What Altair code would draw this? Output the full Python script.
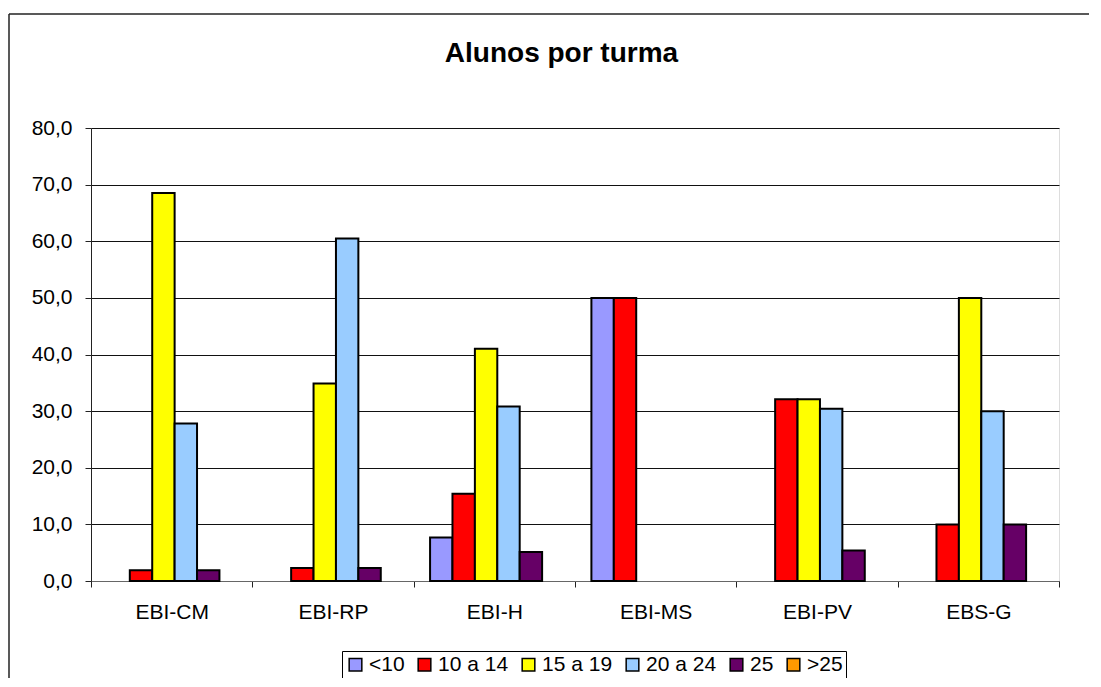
import altair as alt
import pandas as pd

categories = ["EBI-CM", "EBI-RP", "EBI-H", "EBI-MS", "EBI-PV", "EBS-G"]
series = ["<10", "10 a 14", "15 a 19", "20 a 24", "25", ">25"]
colors = ["#9999FF", "#FF0000", "#FFFF00", "#99CCFF", "#660066", "#FF9900"]

v_lt10 = [None, None, 7.7, 50.0, None, None]
v_10_14 = [1.9, 2.3, 15.4, 50.0, 32.1, 10.0]
v_15_19 = [68.5, 34.9, 41.0, None, 32.1, 50.0]
v_20_24 = [27.8, 60.5, 30.8, None, 30.4, 30.0]
v_25 = [1.9, 2.3, 5.1, None, 5.4, 10.0]
v_gt25 = [None, None, None, None, None, None]

all_vals = [v_lt10, v_10_14, v_15_19, v_20_24, v_25, v_gt25]
rows = []
for s, vals in zip(series, all_vals):
    for c, v in zip(categories, vals):
        if v is not None:
            rows.append({"turma": c, "serie": s, "valor": v})
df = pd.DataFrame(rows)

FONT = "Liberation Sans"
W, H = 968, 453

bars = alt.Chart(df).mark_bar(stroke="black", strokeWidth=2, strokeJoin="miter").encode(
    x=alt.X("turma:N", sort=categories, title=None,
            scale=alt.Scale(paddingInner=0, paddingOuter=0),
            axis=alt.Axis(labelAngle=0, tickBand="extent", labelFontSize=21, labelFont=FONT,
                          labelColor="black", labelPadding=14, tickSize=6, tickColor="#222",
                          domainColor="#666", grid=False)),
    xOffset=alt.XOffset("serie:N", sort=series,
                        scale=alt.Scale(domain=series, paddingInner=0, paddingOuter=0.6, align=0.61)),
    y=alt.Y("valor:Q", title=None,
            scale=alt.Scale(domain=[0, 80], nice=False),
            axis=alt.Axis(values=[0, 10, 20, 30, 40, 50, 60, 70, 80],
                          labelExpr="replace(format(datum.value, '.1f'), '.', ',')",
                          labelFontSize=21, labelFont=FONT, labelColor="black",
                          labelPadding=13, tickSize=6, tickColor="#222", domainColor="#222",
                          grid=True, gridColor="#111", gridWidth=1)),
    color=alt.Color("serie:N", sort=series,
                    scale=alt.Scale(domain=series, range=colors),
                    legend=alt.Legend(title=None, orient="none", legendX=251, legendY=523,
                                      direction="horizontal", columns=6,
                                      symbolType="square", symbolSize=160,
                                      symbolStrokeColor="black", symbolStrokeWidth=1.5,
                                      symbolOpacity=1,
                                      labelFontSize=21, labelFont=FONT, labelColor="black",
                                      labelOffset=3, columnPadding=9,
                                      strokeColor="black", padding=3)),
)

title = alt.Chart(pd.DataFrame({"t": ["Alunos por turma"]})).mark_text(
    font=FONT, fontSize=28, fontWeight="bold", color="black",
    align="center", baseline="alphabetic"
).encode(text="t:N", x=alt.value(470.5), y=alt.value(-66))

frame = pd.DataFrame({"a": [1]})
border_top = alt.Chart(frame).mark_rule(stroke="#222", strokeWidth=1.5).encode(
    x=alt.value(-82), x2=alt.value(1100), y=alt.value(-114))
border_left = alt.Chart(frame).mark_rule(stroke="#222", strokeWidth=1.5).encode(
    x=alt.value(-82), y=alt.value(-114), y2=alt.value(700))

chart = alt.layer(border_top, border_left, bars, title).properties(
    width=W, height=H,
    autosize=alt.AutoSizeParams(type="none"),
    padding={"left": 83, "top": 120, "right": 30, "bottom": 97},
).configure_view(stroke=None).configure(font=FONT)

chart.save("out.html", embed_options={"renderer": "svg", "actions": False})
